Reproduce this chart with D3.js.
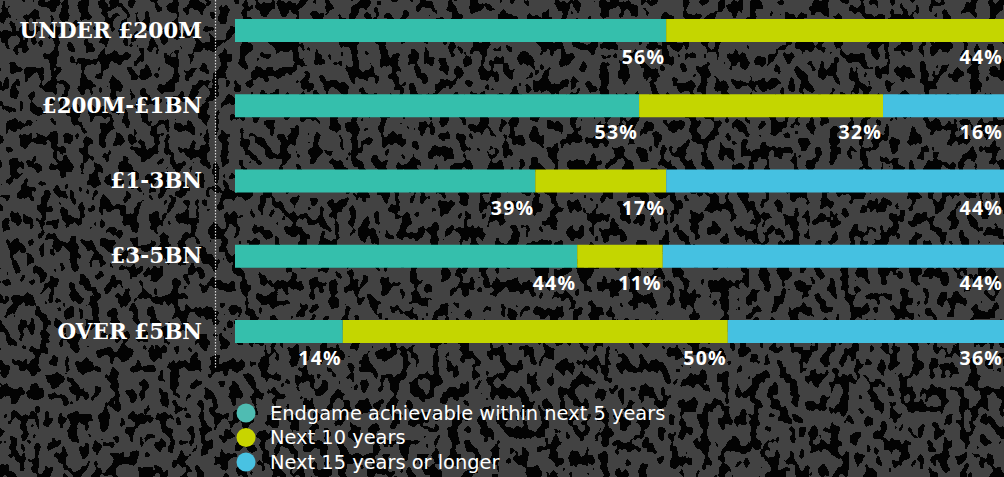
<!DOCTYPE html>
<html>
<head>
<meta charset="utf-8">
<script src="https://cdn.jsdelivr.net/npm/d3@7"></script>
<style>
  html, body { margin: 0; padding: 0; background: #1a1a1a; }
  svg { display: block; }
</style>
</head>
<body>
<svg id="chart" width="1004" height="477"></svg>
<script>
// Company size bands and the share of respondents per time horizon (%)
const categories = ["UNDER £200M", "£200M-£1BN", "£1-3BN", "£3-5BN", "OVER £5BN"];
const within5 = [56, 53, 39, 44, 14];
const next10 = [44, 32, 17, 11, 50];
const next15 = [0, 16, 44, 44, 36];
const seriesKeys = ["within5", "next10", "next15"];
const seriesNames = [
  "Endgame achievable within next 5 years",
  "Next 10 years",
  "Next 15 years or longer"
];
const seriesColors = ["#35bfac", "#c4d600", "#45c1e1"];
const legendColors = ["#4fbcb2", "#c8d400", "#49c2e2"];

const W = 1004, H = 477;
const svg = d3.select("#chart");

// Textured dark backdrop
const defs = svg.append("defs");
const f = defs.append("filter").attr("id", "grain")
  .attr("x", 0).attr("y", 0).attr("width", W).attr("height", H)
  .attr("filterUnits", "userSpaceOnUse");
f.append("feTurbulence").attr("type", "fractalNoise")
  .attr("baseFrequency", "0.1 0.075").attr("numOctaves", 2).attr("seed", 23).attr("result", "n");
f.append("feColorMatrix").attr("in", "n").attr("type", "matrix")
  .attr("values", "0 0 0 0 0  0 0 0 0 0  0 0 0 0 0  1 0 0 0 0");
const ct = f.append("feComponentTransfer");
ct.append("feFuncA").attr("type", "discrete")
  .attr("tableValues", "0 0 0 0 0 0 0 0 0 0 0 0.95 0.95 0.95 0.95 0.95 0.95 0.95 0.95 0.95");

svg.append("rect").attr("width", W).attr("height", H).attr("fill", "#424242");
svg.append("rect").attr("width", W).attr("height", H).attr("fill", "#000").attr("filter", "url(#grain)");

// Rows normalised to 100% with d3.stack
const table = categories.map((c, i) => ({
  cat: c, within5: within5[i], next10: next10[i], next15: next15[i]
}));
const stacked = d3.stack().keys(seriesKeys).offset(d3.stackOffsetExpand)(table);

// Scales
const x = d3.scaleLinear().domain([0, 1]).range([235, 1005]);
const y = d3.scalePoint().domain(categories).range([19, 320]);
const barH = 23;

// Dotted divider
svg.append("line")
  .attr("x1", 215.5).attr("x2", 215.5).attr("y1", 0).attr("y2", 368)
  .attr("stroke", "#d8d8d8").attr("stroke-width", 1.2).attr("stroke-dasharray", "1.5,1.5");

const g = svg.append("g");
stacked.forEach((layer, j) => {
  const segs = layer.filter(d => d.data[layer.key] > 0);
  g.append("g").selectAll("rect").data(segs).join("rect")
    .attr("x", d => x(d[0]))
    .attr("y", d => y(d.data.cat))
    .attr("width", d => x(d[1]) - x(d[0]))
    .attr("height", barH)
    .attr("fill", seriesColors[j]);
  g.append("g").selectAll("text").data(segs).join("text")
    .attr("x", d => Math.min(x(d[1]) - 1, 1003))
    .attr("y", d => y(d.data.cat) + 45)
    .attr("text-anchor", "end")
    .attr("fill", "#fff")
    .attr("font-family", "'Open Sans', sans-serif")
    .attr("font-weight", 700)
    .attr("font-size", 19.5)
    .attr("letter-spacing", 1.2)
    .text(d => d.data[layer.key] + "%");
});

// Category labels
g.append("g").selectAll("text").data(categories).join("text")
  .attr("x", 202).attr("y", d => y(d) + 18.5)
  .attr("text-anchor", "end")
  .attr("fill", "#fff")
  .attr("font-family", "'DejaVu Serif', serif")
  .attr("font-weight", 700)
  .attr("font-size", 21.5)
  .text(d => d);

// Legend
const lg = svg.append("g").selectAll("g").data(seriesNames).join("g")
  .attr("transform", (d, i) => `translate(0,${413 + i * 24.5})`);
lg.append("circle").attr("cx", 246).attr("cy", 0).attr("r", 9.5)
  .attr("fill", (d, i) => legendColors[i]);
lg.append("text")
  .attr("x", 270).attr("y", 6.5)
  .attr("fill", "#fff")
  .attr("font-family", "'DejaVu Sans', sans-serif")
  .attr("font-size", 19.4)
  .text(d => d);
</script>
</body>
</html>
